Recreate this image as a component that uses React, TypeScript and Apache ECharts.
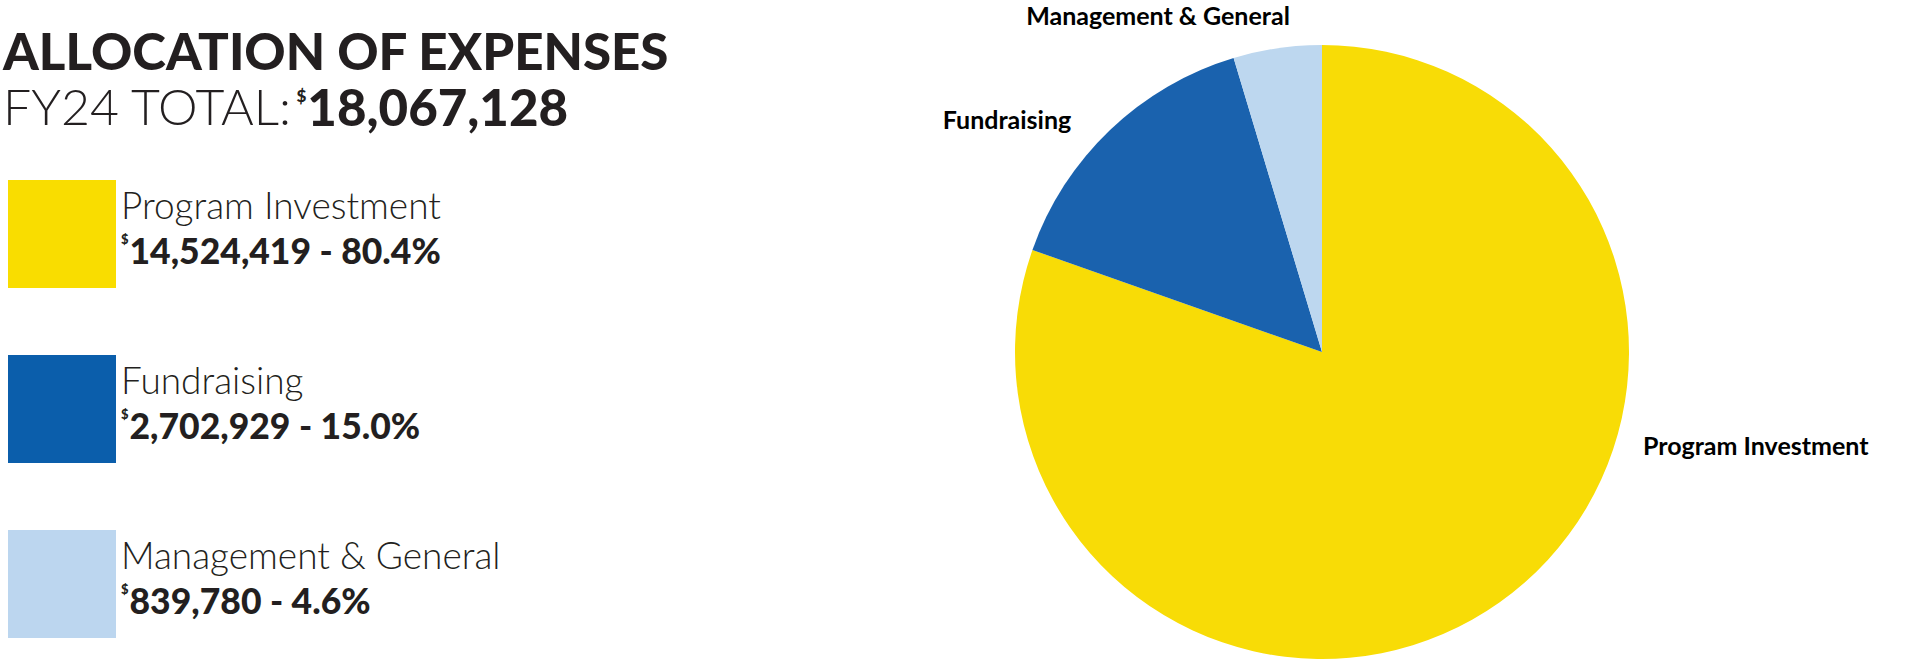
import React, { useEffect, useRef } from "react";
import * as echarts from "echarts";

const categories = ["Program Investment", "Fundraising", "Management & General"];
const amounts = [14524419, 2702929, 839780];
const percents = [80.4, 15.0, 4.6];
const totalAmount = 18067128;
const titleText = "ALLOCATION OF EXPENSES";
const totalLabel = "FY24 TOTAL:";

const sliceColors = ["#F8DC06", "#1A62AE", "#BDD7EF"];
const legendColors = ["#F9DD00", "#0B5EAB", "#BCD6EF"];

const FONT = "Lato, 'Noto Sans', sans-serif";
const INK = "#231F20";

const fmt = (v: number) => v.toLocaleString("en-US");

export default function App() {
  const ref = useRef<HTMLDivElement>(null);
  useEffect(() => {
    if (!ref.current) return;
    const chart = echarts.init(ref.current, null, { renderer: "svg" });
    const CX = 1322;
    const CY = 352;
    const R = 307;
    const labelSpots = [
      { dx: R + 14, dy: 93, align: "left" },
      { dx: -315, dy: -233, align: "center" },
      { dx: -164, dy: -R - 30, align: "center" },
    ];
    chart.setOption({
      animation: false,
      backgroundColor: "#ffffff",
      title: {
        text: titleText,
        subtext: `{t|${totalLabel}}{s|$}{v|${fmt(totalAmount)}}`,
        left: -2,
        top: 18,
        itemGap: 2,
        textStyle: {
          fontFamily: FONT,
          fontSize: 51,
          fontWeight: 900,
          color: INK,
          lineHeight: 54,
        },
        subtextStyle: {
          fontFamily: FONT,
          color: INK,
          rich: {
            t: { fontFamily: FONT, fontSize: 50, fontWeight: 300, color: INK, lineHeight: 54 },
            s: { fontFamily: FONT, fontSize: 17, fontWeight: 900, color: INK, lineHeight: 17, verticalAlign: "top", padding: [8, 1, 0, 4] },
            v: { fontFamily: FONT, fontSize: 51, fontWeight: 900, color: INK, lineHeight: 54 },
          },
        },
      },
      legend: {
        orient: "vertical",
        left: 3,
        top: 175,
        itemWidth: 108,
        itemHeight: 108,
        itemGap: 67,
        icon: "rect",
        selectedMode: false,
        data: categories.map((c, i) => ({ name: c, itemStyle: { color: legendColors[i] } })),
        formatter: (name: string) => {
          const i = categories.indexOf(name);
          return `{a|${name}}\n{s|$}{b|${fmt(amounts[i])} - ${percents[i].toFixed(1)}%}`;
        },
        textStyle: {
          padding: [0, 0, 14, 0],
          rich: {
            a: { fontFamily: FONT, fontSize: 37, fontWeight: 300, color: INK, lineHeight: 46 },
            s: { fontFamily: FONT, fontSize: 13, fontWeight: 900, color: INK, lineHeight: 13, verticalAlign: "top", padding: [5, 1, 0, 0] },
            b: { fontFamily: FONT, fontSize: 35.5, fontWeight: 900, color: INK, lineHeight: 46 },
          },
        },
      },
      series: [
        {
          type: "pie",
          center: [CX, CY],
          radius: [0, R],
          startAngle: 90,
          clockwise: true,
          silent: true,
          data: categories.map((c, i) => ({
            name: c,
            value: amounts[i],
            itemStyle: { color: sliceColors[i] },
          })),
          label: {
            show: true,
            position: "outside",
            formatter: "{b}",
            fontFamily: FONT,
            fontSize: 25,
            fontWeight: "bold",
            color: "#000",
          },
          labelLine: { show: false },
          labelLayout: (p: any) => {
            const s = labelSpots[p.dataIndex];
            return { x: CX + s.dx, y: CY + s.dy, align: s.align, verticalAlign: "middle" };
          },
        },
      ],
    });
    return () => chart.dispose();
  }, []);
  return (
    <div
      ref={ref}
      style={{ position: "fixed", left: 0, top: 0, width: 1920, height: 662 }}
    />
  );
}
